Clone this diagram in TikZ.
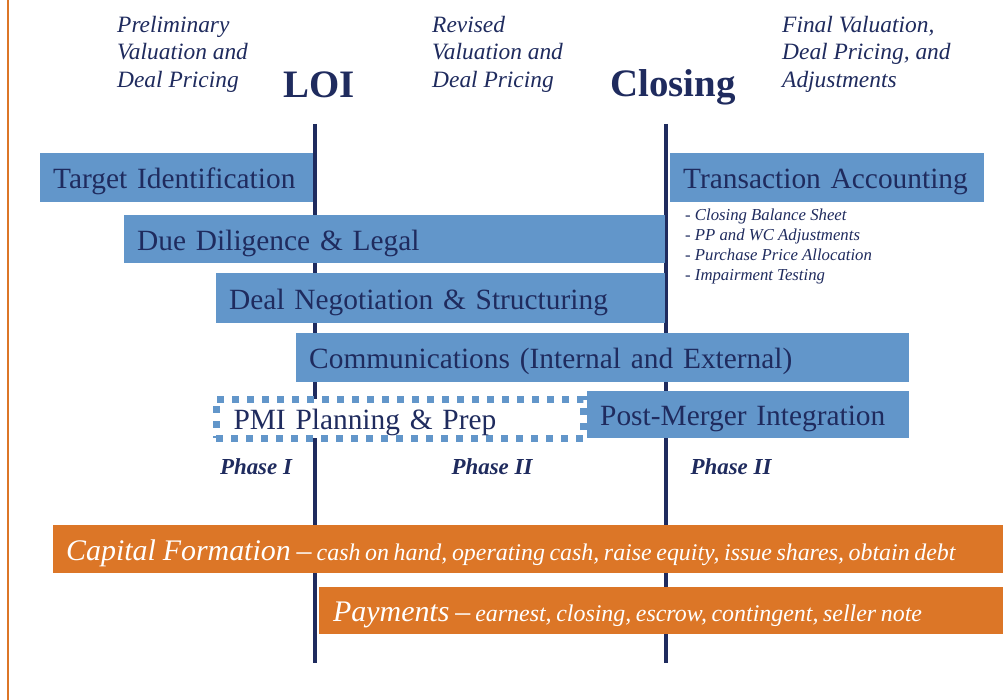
\documentclass[tikz,border=0pt]{standalone}
\usepackage{fontspec}
\setmainfont{Liberation Serif}[ItalicFont={Liberation Serif Italic}, BoldFont={Liberation Serif Bold}, BoldItalicFont={Liberation Serif Bold Italic}]
\definecolor{navy}{RGB}{31,43,94}
\definecolor{barblue}{RGB}{98,150,202}
\definecolor{barorange}{RGB}{220,118,39}
\newcommand{\bigit}[1]{{\fontsize{30}{32}\selectfont\itshape #1}}
\newcommand{\smallit}[1]{{\fontsize{24}{26}\selectfont\itshape\spaceskip=4.6bp\relax #1}}
\begin{document}
\begin{tikzpicture}[x=1bp,y=-1bp,
  bar/.style={anchor=north west, inner xsep=13bp, inner ysep=0pt, align=left,
    text height=22bp, text depth=0pt},
  bluebar/.style={bar, fill=barblue, text=navy, font=\fontsize{29.5}{32}\selectfont},
  orangebar/.style={bar, fill=barorange, text=white},
  dotbox/.style={bar, draw=barblue, fill=white, line width=7bp, dash pattern=on 7bp off 8bp,
    text=navy, font=\fontsize{29.5}{32}\selectfont, inner xsep=17.5bp},
  topnote/.style={anchor=north west, inner sep=0pt, align=left, text=navy,
    font=\fontsize{23.5}{27.5}\selectfont\itshape},
  milestone/.style={anchor=base, inner sep=0pt, text=navy,
    font=\fontsize{39}{42}\selectfont\bfseries},
  phase/.style={anchor=base, inner sep=0pt, text=navy,
    font=\fontsize{23}{25}\selectfont\bfseries\itshape},
  vline/.style={draw=navy, line width=4bp},
  edgeline/.style={draw=barorange, line width=2.5bp},
]
\useasboundingbox[fill=white] (0,0) rectangle (1003,700);

% left orange rule
\coordinate (edgeTop) at (8,0);
\coordinate (edgeBot) at (8,700);
\draw[edgeline] (edgeTop) -- (edgeBot);

% milestone labels
\node[milestone] (loi) at (319,98) {LOI};
\node[milestone] (closing) at (673,97) {Closing};

% vertical milestone lines
\coordinate (loiTop) at (315,124);
\coordinate (loiBot) at (315,663);
\coordinate (clTop) at (666,124);
\coordinate (clBot) at (666,663);
\draw[vline] (loiTop) -- (loiBot);
\draw[vline] (clTop) -- (clBot);

% top notes
\node[topnote] (pre) at (117,16) {Preliminary\\Valuation and\\Deal Pricing};
\node[topnote] (rev) at (432,16) {Revised\\Valuation and\\Deal Pricing};
\node[topnote] (fin) at (782,16) {Final Valuation,\\Deal Pricing, and\\Adjustments};

% blue bars
\node[bluebar, text width=247bp, minimum height=49bp] (target) at (40,153) {Target Identification};
\node[bluebar, text width=288bp, minimum height=49bp] (trans) at (670,153) {Transaction Accounting};
\node[bluebar, text width=515bp, minimum height=48bp] (due) at (124,215) {Due Diligence \& Legal};
\node[bluebar, text width=423bp, minimum height=50bp] (deal) at (216,273) {Deal Negotiation \& Structuring};
\node[bluebar, text width=587bp, minimum height=49bp] (comm) at (296,333) {Communications (Internal and External)};
\node[bluebar, text width=296bp, minimum height=47bp] (post) at (587,391) {Post-Merger Integration};
\node[dotbox, text width=332bp, minimum height=39bp] (pmi) at (212.5,395.5) {PMI Planning \& Prep};

% transaction accounting details
\node[anchor=north west, inner sep=0pt, align=left, text=navy,
  font=\fontsize{16.8}{20}\selectfont\itshape] (details) at (685,209)
  {- Closing Balance Sheet\\- PP and WC Adjustments\\- Purchase Price Allocation\\- Impairment Testing};

% phases
\node[phase] (ph1) at (256,474) {Phase I};
\node[phase] (ph2) at (492,474) {Phase II};
\node[phase] (ph3) at (731,474) {Phase II};

% orange bars
\node[orangebar, text width=924bp, minimum height=48bp] (capital) at (53,525)
  {\bigit{Capital\hspace{7bp}Formation\hspace{6bp}--}\hspace{5bp}\smallit{cash on hand, operating cash, raise equity, issue shares, obtain debt}};
\node[orangebar, text width=656bp, minimum height=47bp, inner xsep=14bp] (payments) at (319,587)
  {\bigit{Payments\hspace{6bp}--}\hspace{5bp}\smallit{earnest, closing, escrow, contingent, seller note}};
\end{tikzpicture}
\end{document}
